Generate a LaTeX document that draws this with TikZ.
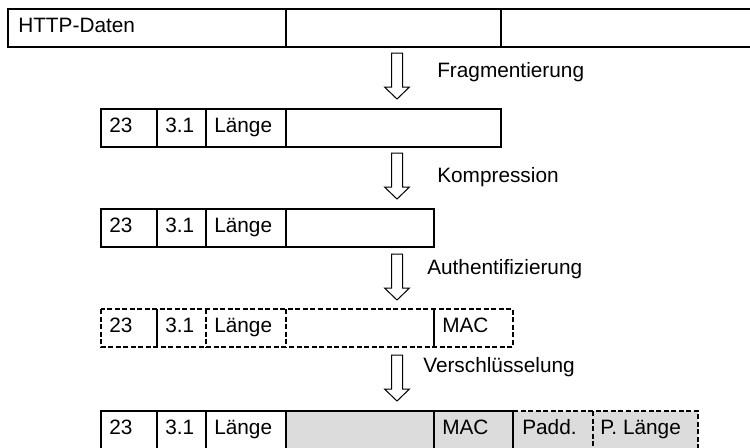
\documentclass[tikz,border=0pt]{standalone}
\usepackage{fontspec}
\setmainfont{Liberation Sans}
\definecolor{cipher}{RGB}{220,220,220}
\tikzset{
  field/.style={anchor=west, inner sep=0pt, text height=0.72em, text depth=0pt,
    font=\fontsize{15.6}{18}\selectfont},
  frame/.style={line width=1.6pt},
  dashframe/.style={line width=1.6pt, dash pattern=on 3.75pt off 1.9pt},
  hollow/.style={draw, line width=0.75pt, fill=white, line join=miter}
}
% hollow down arrow, top at y=#1
\newcommand{\stepdown}[1]{%
  \draw[hollow] (391.5,#1) -- (402.5,#1) -- (402.5,{#1+34}) -- (409.5,{#1+34})
    -- (397,{#1+46}) -- (384.5,{#1+34}) -- (391.5,{#1+34}) -- cycle;}
\begin{document}
\begin{tikzpicture}[x=0.75pt, y=-0.75pt]
            \useasboundingbox (0,0) rectangle (750,447);

            % HTTP data
            \draw[frame] (8,9) rectangle (770,47);
            \draw[frame] (286,9) -- (286,47);
            \draw[frame] (501,9) -- (501,47);
            \node[field] (http) at (18,28) {HTTP-Daten};

            \stepdown{53}
            \node[field] (frag) at (437,73) {Fragmentierung};

            % fragment
            \draw[frame] (101,109) rectangle (501,147);
            \draw[frame] (157,109) -- (157,147);
            \draw[frame] (206,109) -- (206,147);
            \draw[frame] (286,109) -- (286,147);
            \node[field] (ftype) at (109,128) {23};
            \node[field] (fver) at (165,128) {3.1};
            \node[field] (flen) at (214,128) {Länge};

            \stepdown{153}
            \node[field] (komp) at (437,178) {Kompression};

            % compressed
            \draw[frame] (101,209) rectangle (434,247);
            \draw[frame] (157,209) -- (157,247);
            \draw[frame] (206,209) -- (206,247);
            \draw[frame] (286,209) -- (286,247);
            \node[field] (ctype) at (109,228) {23};
            \node[field] (cver) at (165,228) {3.1};
            \node[field] (clen) at (214,228) {Länge};

            \stepdown{254}
            \node[field] (auth) at (427,270) {Authentifizierung};

            % with MAC
            \draw[dashframe] (101,309) rectangle (513,347);
            \draw[frame] (157,309) -- (157,347);
            \draw[dashframe] (206,309) -- (206,347);
            \draw[dashframe] (286,309) -- (286,347);
            \draw[frame] (434,309) -- (434,347);
            \node[field] (mtype) at (109,328) {23};
            \node[field] (mver) at (165,328) {3.1};
            \node[field] (mlen) at (214,328) {Länge};
            \node[field] (mmac) at (442,328) {MAC};

            \stepdown{355}
            \node[field] (encr) at (423,368) {Verschlüsselung};

            % encrypted record
            \fill[cipher] (286,411) rectangle (698,455);
            \draw[frame] (513,455) -- (513,411) -- (101,411) -- (101,455);
            \draw[frame] (157,411) -- (157,455);
            \draw[frame] (206,411) -- (206,455);
            \draw[frame] (286,411) -- (286,455);
            \draw[frame] (434,411) -- (434,455);
            \draw[dashframe] (513,411) -- (698,411) -- (698,455);
            \draw[dashframe] (593,411) -- (593,455);
            \node[field] (etype) at (109,430) {23};
            \node[field] (ever) at (165,430) {3.1};
            \node[field] (elen) at (214,430) {Länge};
            \node[field] (emac) at (442,430) {MAC};
            \node[field] (epad) at (522,430) {Padd.};
            \node[field] (eplen) at (600,430) {P. Länge};

\end{tikzpicture}
\end{document}
